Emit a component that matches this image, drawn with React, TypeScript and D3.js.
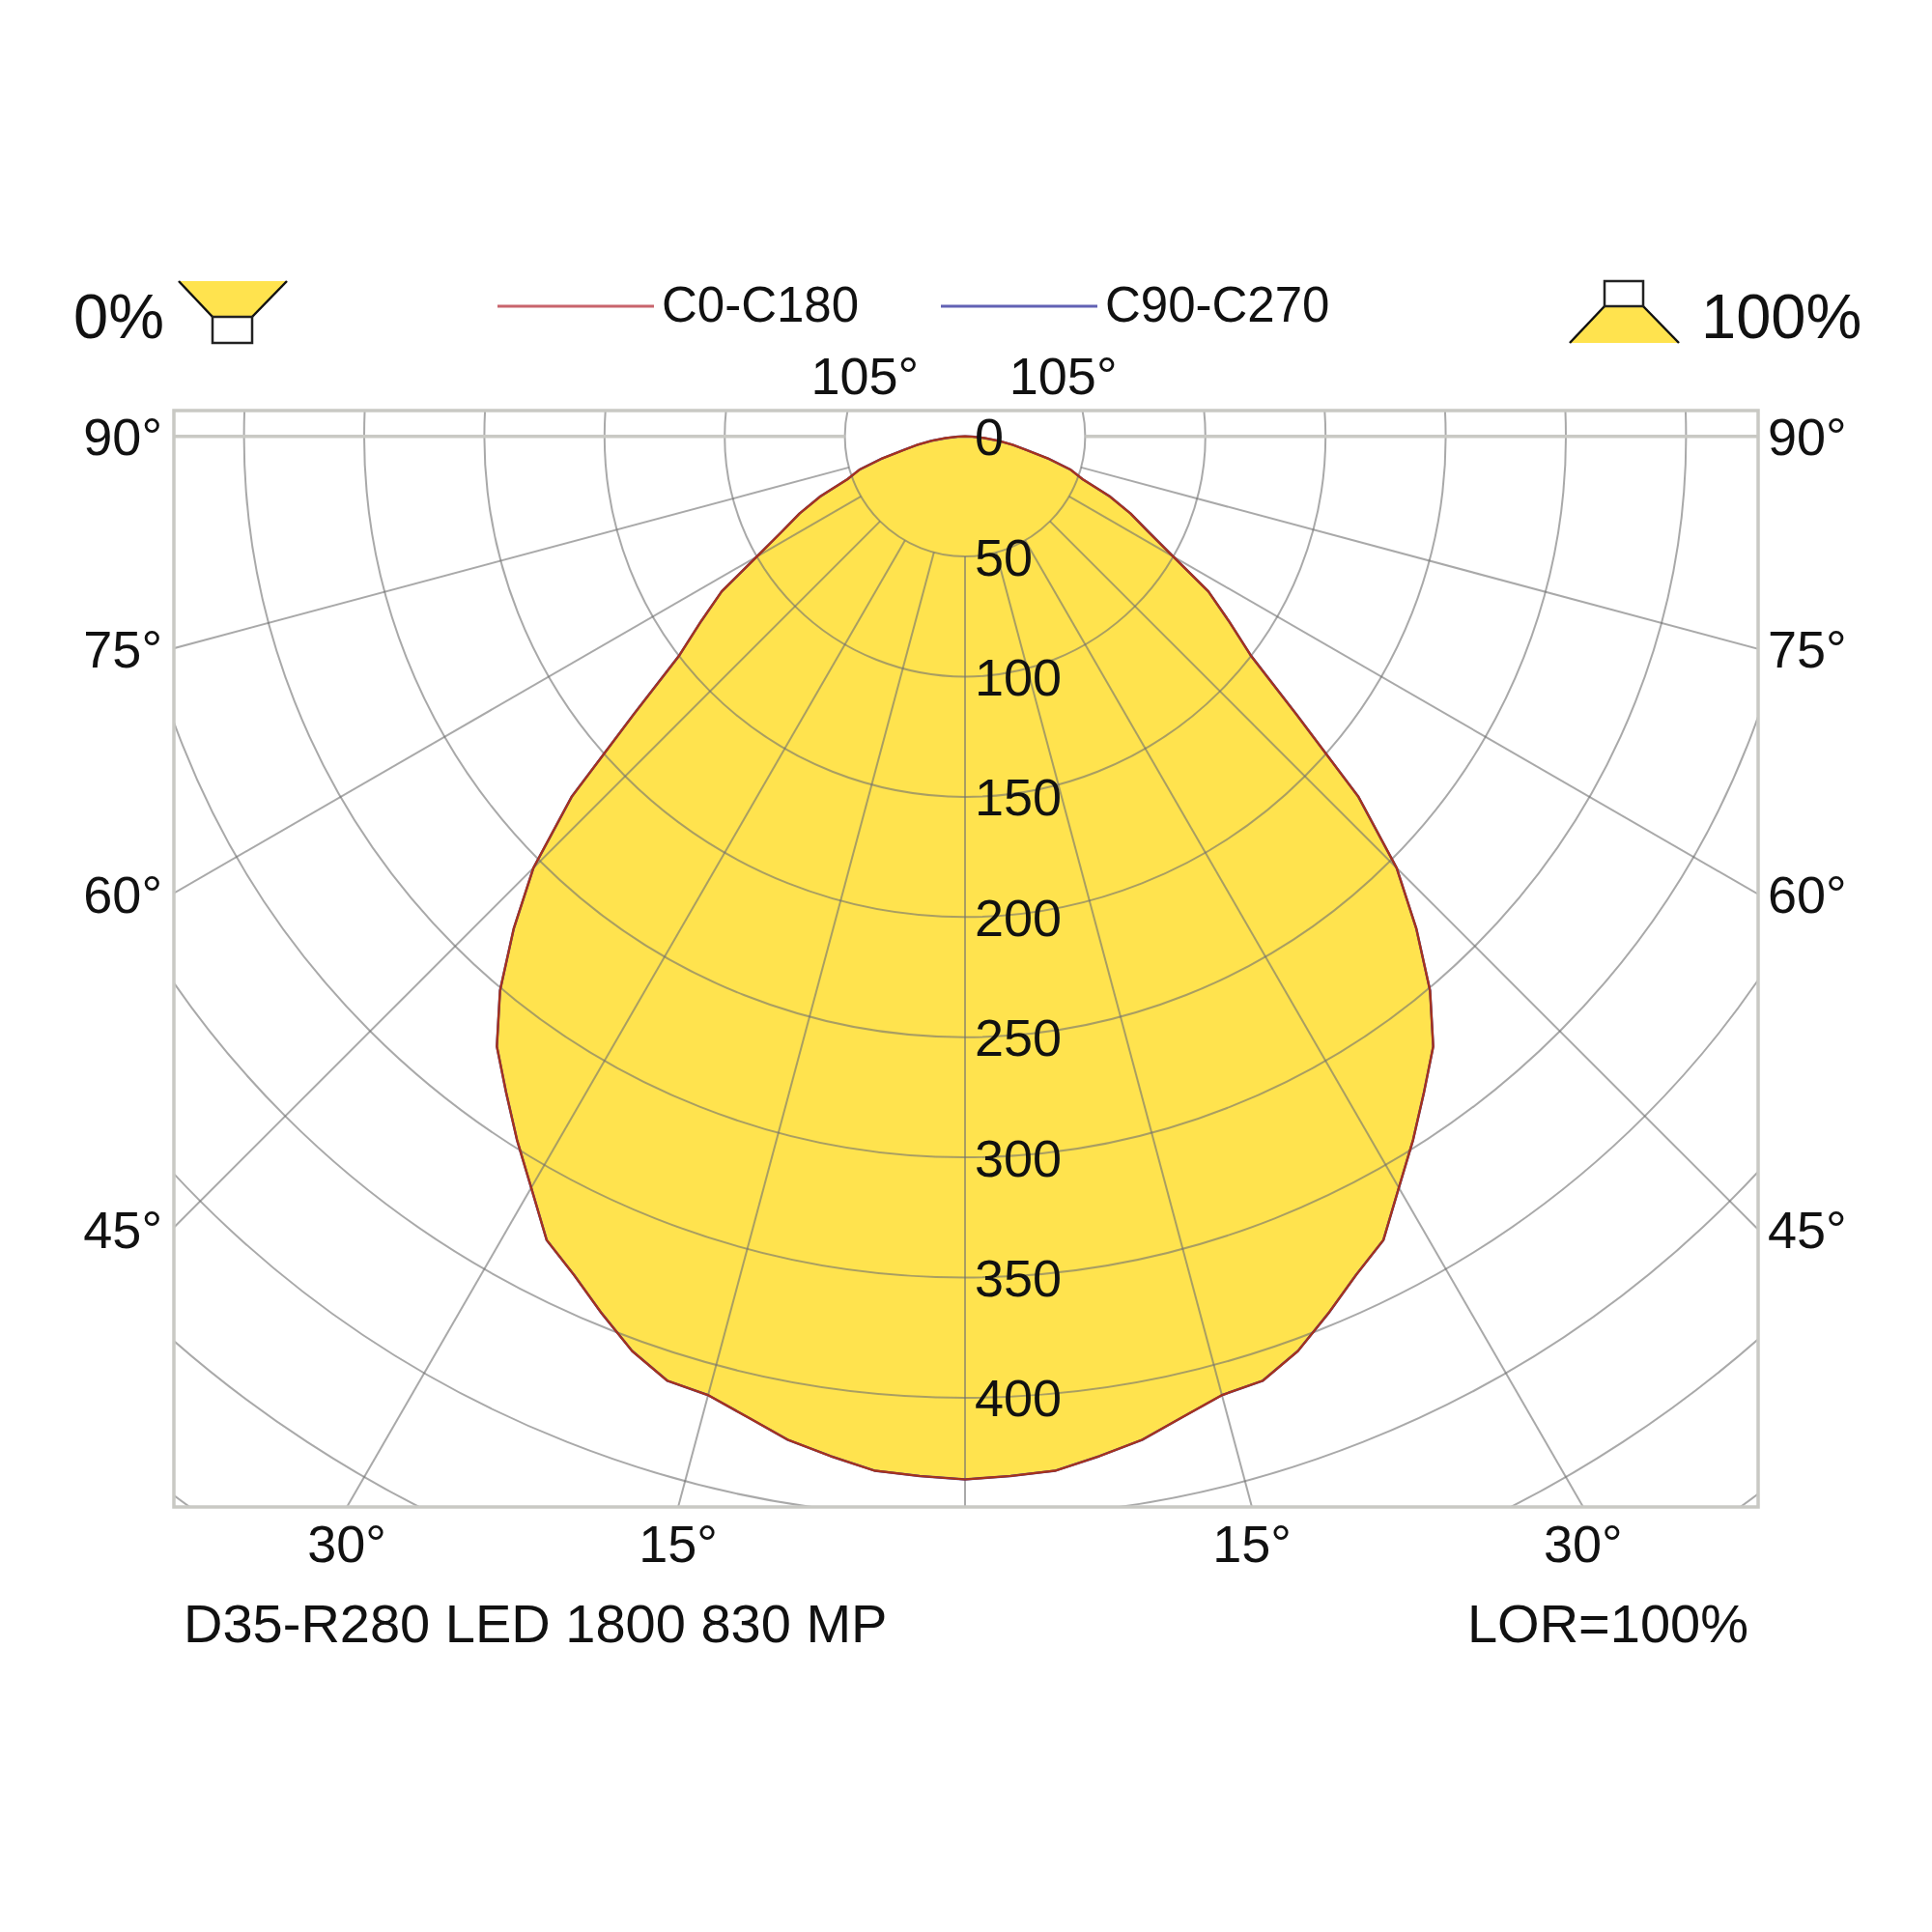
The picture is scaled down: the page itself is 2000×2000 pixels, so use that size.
import React from 'react';
import * as d3 from 'd3';

// luminous intensity (cd) per gamma angle, measured from nadir
const gammaAngles = [0, 2.5, 5, 7.5, 10, 12.5, 15, 17.5, 20, 22.5, 25, 27.5, 30, 32.5, 35, 37.5, 40, 42.5, 45, 47.5, 50, 52.5, 55, 57.5, 60, 62.5, 65, 67.5, 70, 72.5, 75, 77.5, 80, 82.5, 85, 87.5, 90];
const intensityC0C180 = [434, 433, 432, 428, 424, 418, 413, 412, 405, 395, 385, 377, 361, 347, 333, 320, 301, 278, 254, 222, 180, 150, 134, 120, 100, 86, 76, 65, 52, 46, 36, 26, 20, 14, 8, 3, 0];
const intensityC90C270 = [434, 433, 432, 428, 424, 418, 413, 412, 405, 395, 385, 377, 361, 347, 333, 320, 301, 278, 254, 222, 180, 150, 134, 120, 100, 86, 76, 65, 52, 46, 36, 26, 20, 14, 8, 3, 0];

const ringValues = [50, 100, 150, 200, 250, 300, 350, 400, 450, 500, 550];
const ringLabels = [0, 50, 100, 150, 200, 250, 300, 350, 400];
const radialAngles = [0, 15, 30, 45, 60, 75];
const sideTicks = [90, 75, 60, 45];
const bottomTicks = [30, 15];
const topTicks = [105];

const legendItems = [
  { label: 'C0-C180', color: '#c8646c' },
  { label: 'C90-C270', color: '#6262b4' },
];
const luminaireName = 'D35-R280 LED 1800 830 MP';
const lorText = 'LOR=100%';

const W = 2000;
const H = 2000;
const CX = 999;
const CY = 451.7;
const frame = { x0: 180, x1: 1820, y0: 425, y1: 1560 };
const FONT = '"Liberation Sans", Arial, sans-serif';
const YELLOW = '#ffe34e';

const r = d3.scaleLinear().domain([0, 400]).range([0, 995.2]);
const rad = (deg: number) => (deg * Math.PI) / 180;

// point at gamma (deg from nadir, positive = right) and radius px
const pt = (g: number, rr: number): [number, number] => [CX + rr * Math.sin(rad(g)), CY + rr * Math.cos(rad(g))];

function curvePath(values: number[]) {
  const pts: [number, number][] = [];
  // left half (C180 / C270) from horizontal down to nadir, then right half back up
  for (let i = gammaAngles.length - 1; i >= 0; i--) pts.push([Math.PI + rad(gammaAngles[i]), r(values[i])]);
  for (let i = 1; i < gammaAngles.length; i++) pts.push([Math.PI - rad(gammaAngles[i]), r(values[i])]);
  return d3.lineRadial().curve(d3.curveLinearClosed)(pts) || '';
}

export default function App() {
  const rMin = r(50);
  const rMax = 2200;
  const gridStroke = '#6f6f6f';
  const frameStroke = '#c9c9c4';
  const tickFont = 54;

  const radials: number[] = [];
  radialAngles.forEach((a) => {
    radials.push(a);
    if (a !== 0) radials.push(-a);
  });

  const sideY = (a: number) => CY + (frame.x1 - CX) / Math.tan(rad(a));
  const bottomX = (a: number) => (frame.y1 - CY) * Math.tan(rad(a));
  const topX = (a: number) => (CY - frame.y0) / Math.tan(rad(a - 90));

  return (
    <svg width={W} height={H} style={{ position: 'absolute', left: 0, top: 0, background: '#fff' }} fontFamily={FONT}>
      <defs>
        <clipPath id="frameClip">
          <rect x={frame.x0} y={frame.y0} width={frame.x1 - frame.x0} height={frame.y1 - frame.y0} />
        </clipPath>
      </defs>
      <rect width={W} height={H} fill="#fff" />

      {/* intensity fill */}
      <g transform={`translate(${CX},${CY})`}>
        <path d={curvePath(intensityC0C180)} fill={YELLOW} stroke="none" />
      </g>

      {/* polar grid */}
      <g clipPath="url(#frameClip)" fill="none" stroke={gridStroke} strokeOpacity={0.6} strokeWidth={2}>
        {ringValues.map((v) => (
          <circle key={v} cx={CX} cy={CY} r={r(v)} />
        ))}
        {radials.map((a) => {
          const [x1, y1] = pt(a, rMin);
          const [x2, y2] = pt(a, rMax);
          return <line key={a} x1={x1} y1={y1} x2={x2} y2={y2} />;
        })}
      </g>
      <g stroke={frameStroke} strokeWidth={3.5} fill="none">
        <line x1={frame.x0} y1={CY} x2={pt(-90, rMin)[0]} y2={CY} />
        <line x1={pt(90, rMin)[0]} y1={CY} x2={frame.x1} y2={CY} />
        <rect x={frame.x0} y={frame.y0} width={frame.x1 - frame.x0} height={frame.y1 - frame.y0} />
      </g>

      {/* intensity outlines */}
      <g transform={`translate(${CX},${CY})`} fill="none" strokeLinejoin="round">
        <path d={curvePath(intensityC90C270)} stroke="#4a3a8a" strokeWidth={2.5} />
        <path d={curvePath(intensityC0C180)} stroke="#a8321c" strokeWidth={2.2} />
      </g>

      {/* intensity labels */}
      <g fontSize={tickFont} fill="#111">
        {ringLabels.map((v) => (
          <text key={v} x={CX + 10} y={CY + r(v)} dy="0.36em">
            {v}
          </text>
        ))}
      </g>

      {/* angle labels */}
      <g fontSize={tickFont} fill="#111">
        {sideTicks.map((a) => (
          <React.Fragment key={a}>
            <text x={168} y={sideY(a)} dy="0.36em" textAnchor="end">{`${a}°`}</text>
            <text x={1830} y={sideY(a)} dy="0.36em">{`${a}°`}</text>
          </React.Fragment>
        ))}
        {bottomTicks.map((a) => (
          <React.Fragment key={a}>
            <text x={CX - bottomX(a)} y={1598} dy="0.36em" textAnchor="middle">{`${a}°`}</text>
            <text x={CX + bottomX(a)} y={1598} dy="0.36em" textAnchor="middle">{`${a}°`}</text>
          </React.Fragment>
        ))}
        {topTicks.map((a) => (
          <React.Fragment key={a}>
            <text x={CX - topX(a) - 4} y={389} dy="0.36em" textAnchor="middle">{`${a}°`}</text>
            <text x={CX + topX(a) + 2} y={389} dy="0.36em" textAnchor="middle">{`${a}°`}</text>
          </React.Fragment>
        ))}
      </g>

      {/* legend */}
      <g fontSize={51} fill="#111">
        {legendItems.map((d, i) => {
          const x0 = i === 0 ? 515 : 974;
          return (
            <g key={d.label}>
              <line x1={x0} y1={317} x2={x0 + 162} y2={317} stroke={d.color} strokeWidth={3} />
              <text x={x0 + 170} y={315} dy="0.36em">{d.label}</text>
            </g>
          );
        })}
      </g>

      {/* 0% downlight icon */}
      <g>
        <text x={76} y={350} fontSize={65} fill="#111">0%</text>
        <polygon points="185,291 297,291 261,328 220,328" fill={YELLOW} />
        <line x1={185} y1={291} x2={220} y2={328} stroke="#111" strokeWidth={2.5} />
        <line x1={297} y1={291} x2={261} y2={328} stroke="#111" strokeWidth={2.5} />
        <rect x={220} y={328} width={41} height={27} fill="#fff" stroke="#222" strokeWidth={2.5} />
      </g>

      {/* 100% uplight icon */}
      <g>
        <polygon points="1661,317 1701,317 1738,355 1625,355" fill={YELLOW} />
        <line x1={1661} y1={317} x2={1625} y2={355} stroke="#111" strokeWidth={2.5} />
        <line x1={1701} y1={317} x2={1738} y2={355} stroke="#111" strokeWidth={2.5} />
        <rect x={1661} y={291} width={40} height={26} fill="#fff" stroke="#222" strokeWidth={2.5} />
        <text x={1761} y={350} fontSize={65} fill="#111">100%</text>
      </g>

      {/* footer */}
      <g fontSize={56} fill="#111">
        <text x={190} y={1700}>{luminaireName}</text>
        <text x={1810} y={1700} textAnchor="end">{lorText}</text>
      </g>
    </svg>
  );
}
